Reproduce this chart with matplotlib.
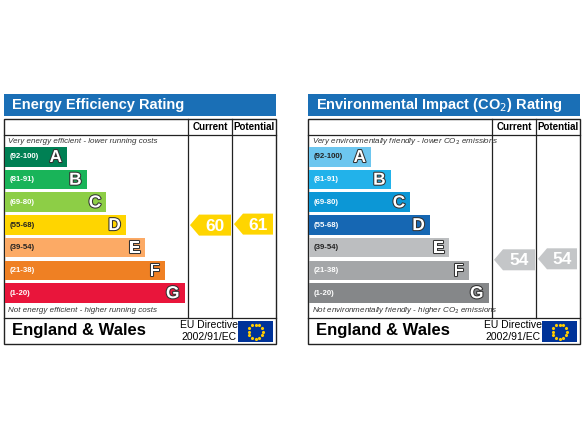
import numpy as np
import matplotlib.pyplot as plt
from matplotlib.patches import Rectangle, Polygon
import matplotlib.patheffects as pe

plt.rcParams['font.family'] = ['Liberation Sans', 'DejaVu Sans']

letters = ['A', 'B', 'C', 'D', 'E', 'F', 'G']
ranges = ['(92-100)', '(81-91)', '(69-80)', '(55-68)', '(39-54)', '(21-38)', '(1-20)']
ee_colors = ['#008054', '#19b459', '#8dce46', '#ffd500', '#fcaa65', '#ef8023', '#e9153b']
ei_colors = ['#6dc6ef', '#22b2ea', '#0c97d6', '#1667b3', '#bcbec0', '#a4a6a8', '#858789']
ee_current, ee_potential = 60, 61
ei_current, ei_potential = 54, 54

TITLE_BLUE = '#1a6fb6'

fig = plt.figure(figsize=(5.83, 4.37), dpi=100)
ax = fig.add_axes([0, 0, 1, 1])
ax.set_xlim(0, 583)
ax.set_ylim(437, 0)
ax.axis('off')


def band_for(score):
    lows = [92, 81, 69, 55, 39, 21, 1]
    for i, lo in enumerate(lows):
        if score >= lo:
            return i
    return 6


def arrow(x0, x1, yc, h, color, txt):
    tip = 9
    pts = [(x0, yc), (x0 + tip, yc - h / 2), (x1, yc - h / 2), (x1, yc + h / 2), (x0 + tip, yc + h / 2)]
    ax.add_patch(Polygon(pts, closed=True, facecolor=color, edgecolor='none'))
    ax.text((x0 + tip + x1) / 2, yc + 1, txt, ha='center', va='center', color='white',
            fontsize=12.5, fontweight='bold')


def flag(x, y, w, h):
    ax.add_patch(Rectangle((x, y), w, h, facecolor='#003399', edgecolor='none'))
    ang = np.linspace(0, 2 * np.pi, 12, endpoint=False)
    ax.scatter(x + w / 2 + 7 * np.cos(ang), y + h / 2 + 7 * np.sin(ang), s=2, marker='*',
               color='#ffcc00', zorder=5)


def panel(x0, title, colors, top_txt, bot_txt, cur, pot, dark_labels):
    x1 = x0 + 272
    ax.add_patch(Rectangle((x0, 94), 272, 22, facecolor=TITLE_BLUE, edgecolor='none'))
    ax.text(x0 + 8, 105.5, title, color='white', fontsize=10.5, fontweight='bold', va='center')
    ax.add_patch(Rectangle((x0, 119), 272, 225, facecolor='white', edgecolor='#222222', lw=1))
    cx0, cx1 = x0 + 184, x0 + 228
    for xv in (cx0, cx1):
        ax.plot([xv, xv], [119, 318], color='#222222', lw=0.9)
    ax.plot([x0, x1], [135, 135], color='#222222', lw=0.9)
    ax.plot([x0, x1], [318, 318], color='#222222', lw=0.9)
    ax.text((cx0 + cx1) / 2, 127.5, 'Current', ha='center', va='center', fontsize=7, fontweight='bold')
    ax.text((cx1 + x1) / 2, 127.5, 'Potential', ha='center', va='center', fontsize=7, fontweight='bold')
    ax.text(x0 + 4, 141.5, top_txt, fontsize=5.8, style='italic', va='center', color='#333333')
    ax.text(x0 + 4, 310.5, bot_txt, fontsize=5.8, style='italic', va='center', color='#333333')
    pitch = 22.7
    for i, (let, rng, col) in enumerate(zip(letters, ranges, colors)):
        yt = 147 + i * pitch
        w = 62 + i * 19.6
        ax.add_patch(Rectangle((x0 + 1, yt), w, 19.5, facecolor=col, edgecolor='none'))
        dark = i in dark_labels
        ax.text(x0 + 6, yt + 10, rng, fontsize=5.6, fontweight='bold', va='center',
                color='#222222' if dark else 'white')
        ax.text(x0 + w - 4, yt + 10.5, let, fontsize=12.5, fontweight='bold', ha='right', va='center',
                color='white', path_effects=[pe.withStroke(linewidth=1.5, foreground='#333333')])

    def ypos(score):
        return 147 + band_for(score) * pitch + 10
    ccol = colors[band_for(cur)] if colors is ee_colors else '#c4c6c8'
    pcol = colors[band_for(pot)] if colors is ee_colors else '#c4c6c8'
    off = 0 if colors is ee_colors else 12
    arrow(cx0 + 2, cx1 - 1, ypos(cur) + off, 21, ccol, str(cur))
    arrow(cx1 + 2, x1 - 3, ypos(pot) + off - 1, 21, pcol, str(pot))
    ax.text(x0 + 8, 331, 'England & Wales', fontsize=12, fontweight='bold', va='center')
    ax.text(x0 + 205, 325.5, 'EU Directive', fontsize=7.5, ha='center', va='center')
    ax.text(x0 + 205, 336.5, '2002/91/EC', fontsize=7.5, ha='center', va='center')
    flag(x0 + 234, 321, 35, 21)


panel(4, 'Energy Efficiency Rating', ee_colors,
      'Very energy efficient - lower running costs',
      'Not energy efficient - higher running costs', ee_current, ee_potential, [3, 4])
panel(308, 'Environmental Impact (CO$_2$) Rating', ei_colors,
      'Very environmentally friendly - lower CO$_2$ emissions',
      'Not environmentally friendly - higher CO$_2$ emissions', ei_current, ei_potential, [0, 4])

fig.savefig('out.png', dpi=100)
